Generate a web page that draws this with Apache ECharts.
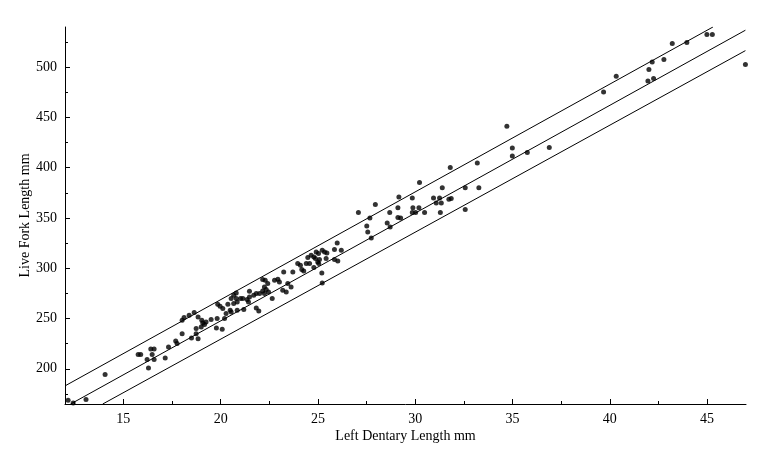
<!DOCTYPE html>
<html>
<head>
<meta charset="utf-8">
<script src="https://cdn.jsdelivr.net/npm/echarts@6/dist/echarts.min.js"></script>
<style>
html,body{margin:0;padding:0;background:#fff;}
#chart{width:763px;height:455px;}
</style>
</head>
<body>
<div id="chart"></div>
<script>
// Left dentary length (mm) and live fork length (mm) for each fish
var dentaryLength = [
12.16,12.42,13.08,14.06,15.76,15.89,16.22,16.29,16.41,16.58,16.48,16.58,17.15,17.32,17.69,17.76,18.02,18.02,18.12,18.38,18.64,18.50,18.74,18.74,18.84,18.84,
19.03,19.08,19.17,19.25,19.00,19.51,19.82,19.78,20.08,19.85,19.97,20.11,20.20,20.28,20.37,20.49,20.54,20.67,20.67,20.80,20.80,20.85,20.54,20.85,
21.02,21.14,21.19,21.36,21.43,21.48,21.48,21.70,21.83,21.83,21.96,22.00,22.16,22.25,22.16,22.29,22.25,22.34,22.46,22.42,22.65,22.77,22.94,23.02,
23.24,23.19,23.37,23.45,23.62,23.71,23.96,24.10,24.17,24.27,24.40,24.57,24.48,24.65,24.79,24.87,24.99,25.08,24.91,25.03,25.22,25.20,
25.22,25.34,25.46,25.42,25.85,26.02,25.04,24.79,25.85,26.20,25.99,27.74,27.56,27.51,28.71,28.56,27.67,29.11,29.25,27.08,28.69,29.85,30.02,30.48,
31.29,32.57,29.11,29.88,30.19,27.95,31.08,31.34,29.16,29.85,30.94,31.25,31.85,31.73,31.39,32.57,33.27,30.22,31.80,33.19,
34.71,34.99,35.76,36.89,34.99,39.68,40.33,41.96,42.25,42.01,42.18,42.78,43.21,43.96,44.99,45.27,46.97
];
var forkLength = [
168.7,166.0,169.4,194.3,214.2,214.2,209.2,200.8,219.7,219.7,214.2,209.2,210.8,221.7,227.7,225.1,235.0,248.3,251.0,253.3,256.0,230.7,240.0,235.0,230.0,251.6,
248.3,245.6,244.0,246.6,241.6,249.0,250.0,240.6,239.3,264.2,262.2,259.9,250.0,255.0,264.2,258.2,269.9,264.9,273.2,275.4,269.9,266.5,256.5,258.2,
269.9,269.9,258.9,268.9,266.5,277.1,271.5,273.2,274.9,260.5,257.5,274.9,277.4,274.9,288.8,288.1,281.4,278.8,276.4,284.8,269.9,288.1,289.1,286.4,
296.3,278.1,276.4,284.8,281.4,296.3,304.7,303.0,298.7,297.3,304.7,304.7,310.7,313.0,311.3,309.7,306.3,308.7,316.2,314.7,285.4,295.3,
317.9,316.2,315.2,309.7,308.7,307.3,304.7,300.7,318.6,317.9,325.2,330.2,336.1,342.1,341.0,345.0,350.1,350.5,350.1,355.4,355.4,355.4,355.4,355.4,
355.4,358.4,360.3,360.3,360.3,363.4,365.0,365.0,371.0,370.0,370.0,370.0,369.4,368.7,380.0,380.0,380.0,385.3,400.2,404.8,
441.3,419.7,415.2,420.1,411.8,475.4,491.1,486.4,488.8,497.7,505.3,507.7,523.6,524.6,532.5,532.5,502.7
];

// Regression line and prediction limits (end points)
var fitX = [12.29, 46.97];
var fitY = [165.0, 536.8];
var upperX = [12.0, 45.3];
var upperY = [183.0, 540.0];
var lowerX = [13.94, 46.97];
var lowerY = [165.0, 516.5];

// Axis ticks
var xMajorTicks = [15, 20, 25, 30, 35, 40, 45];
var xMinorTicks = [12.5, 17.5, 22.5, 27.5, 32.5, 37.5, 42.5];
var yMajorTicks = [200, 250, 300, 350, 400, 450, 500];
var yMinorTicks = [175, 225, 275, 325, 375, 425, 475, 525];

var FONT = "'Liberation Serif','Times New Roman',serif";

function zip(a, b) { return a.map(function (v, i) { return [v, b[i]]; }); }

var chart = echarts.init(document.getElementById('chart'), null, {renderer: 'canvas'});

var baseX = {
  type: 'value', min: 12, max: 47, position: 'bottom',
  splitLine: {show: false}
};
var baseY = {
  type: 'value', min: 165, max: 540, position: 'left',
  splitLine: {show: false}
};

var lineStyle = {color: '#000', width: 1};

chart.setOption({
  animation: false,
  backgroundColor: '#fff',
  grid: {left: 65, right: 17, top: 27, bottom: 51, containLabel: false},
  xAxis: [
    Object.assign({}, baseX, {
      name: 'Left Dentary Length mm',
      nameLocation: 'middle', nameGap: 25, nameMoveOverlap: false,
      nameTextStyle: {color: '#000', fontFamily: FONT, fontSize: 14},
      axisLine: {show: true, lineStyle: {color: '#000', width: 1}},
      axisTick: {show: true, inside: true, length: 5, lineStyle: {color: '#000'}, customValues: xMajorTicks},
      axisLabel: {show: true, color: '#000', fontFamily: FONT, fontSize: 14, margin: 8, customValues: xMajorTicks}
    }),
    Object.assign({}, baseX, {
      axisLine: {show: false},
      axisTick: {show: true, inside: true, length: 3, lineStyle: {color: '#000'}, customValues: xMinorTicks},
      axisLabel: {show: false}
    })
  ],
  yAxis: [
    Object.assign({}, baseY, {
      name: 'Live Fork Length mm',
      nameLocation: 'middle', nameGap: 33, nameMoveOverlap: false,
      nameTextStyle: {color: '#000', fontFamily: FONT, fontSize: 14},
      axisLine: {show: true, lineStyle: {color: '#000', width: 1}},
      axisTick: {show: true, inside: true, length: 5, lineStyle: {color: '#000'}, customValues: yMajorTicks},
      axisLabel: {show: true, color: '#000', fontFamily: FONT, fontSize: 14, margin: 8, customValues: yMajorTicks}
    }),
    Object.assign({}, baseY, {
      axisLine: {show: false},
      axisTick: {show: true, inside: true, length: 3, lineStyle: {color: '#000'}, customValues: yMinorTicks},
      axisLabel: {show: false}
    })
  ],
  series: [
    {type: 'line', xAxisIndex: 0, yAxisIndex: 0, data: zip(upperX, upperY), symbol: 'none', lineStyle: lineStyle, clip: true, silent: true},
    {type: 'line', xAxisIndex: 0, yAxisIndex: 0, data: zip(fitX, fitY), symbol: 'none', lineStyle: lineStyle, clip: true, silent: true},
    {type: 'line', xAxisIndex: 0, yAxisIndex: 0, data: zip(lowerX, lowerY), symbol: 'none', lineStyle: lineStyle, clip: true, silent: true},
    {type: 'scatter', xAxisIndex: 0, yAxisIndex: 0, data: zip(dentaryLength, forkLength),
     symbol: 'circle', symbolSize: 5, itemStyle: {color: '#000'}, clip: false, silent: true}
  ]
});
</script>
</body>
</html>
